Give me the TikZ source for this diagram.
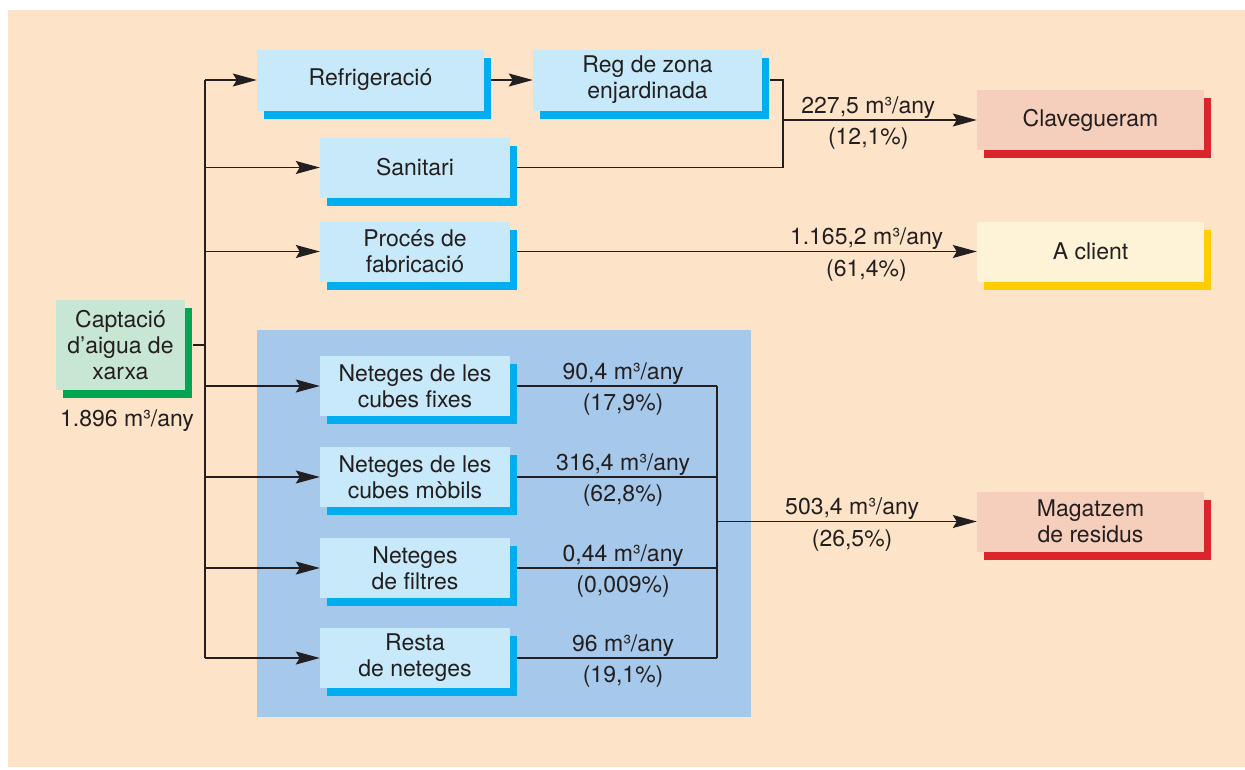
\documentclass[tikz,border=0pt]{standalone}
\usepackage{fontspec}
\setmainfont{TeX Gyre Heros}
\usetikzlibrary{arrows.meta,shadows}
\definecolor{paper}{RGB}{253,227,200}
\definecolor{panel}{RGB}{166,200,234}
\definecolor{boxblue}{RGB}{199,233,249}
\definecolor{shadeblue}{RGB}{0,174,239}
\definecolor{boxgreen}{RGB}{200,230,212}
\definecolor{shadegreen}{RGB}{0,166,81}
\definecolor{boxred}{RGB}{246,206,188}
\definecolor{shadered}{RGB}{218,37,42}
\definecolor{boxyellow}{RGB}{254,243,214}
\definecolor{shadeyellow}{RGB}{255,204,0}
\definecolor{ink}{RGB}{35,31,32}

\begin{document}
\begin{tikzpicture}[x=1pt, y=-1pt, text=ink, font=\fontsize{23}{26}\selectfont,
		box/.style 2 args={fill=#1, align=center, inner sep=0pt, minimum height=60pt,
			drop shadow={shadow xshift=7pt, shadow yshift=-8pt, opacity=1, fill=#2}},
		stage/.style={box={boxblue}{shadeblue}, minimum width=190pt},
		sink/.style 2 args={box={#1}{#2}, minimum width=227pt},
		wire/.style={draw=ink, line width=1.2pt},
		flow/.style={wire, -{Stealth[length=24pt, width=13pt, inset=4pt]}},
		qty/.style={text height=15pt, text depth=5pt, inner sep=1pt}]
			\useasboundingbox (0,0) rectangle (1245,769);
			\fill[paper] (8,10) rectangle (1245,767);
			\fill[panel] (257,330) rectangle (751,717);
			
			\node[box={boxgreen}{shadegreen}, minimum width=129pt, minimum height=90pt] (captacio) at (120.5,345) {Captació\\d’aigua de\\xarxa};
			\node[qty] (cabal) at (127,421) {1.896 m³/any};
			
			\node[stage, minimum width=227pt, minimum height=61pt] (refrig) at (370.5,80) {Refrigeració};
			\node[stage, minimum width=229pt, minimum height=61pt] (reg) at (647.5,80) {Reg de zona\\enjardinada};
			\node[stage] (sanitari) at (415,167.5) {Sanitari};
			\node[stage] (proces) at (415,251.5) {Procés de\\fabricació};
			\node[stage] (net1) at (415,386) {Neteges de les\\cubes fixes};
			\node[stage] (net2) at (415,477) {Neteges de les\\cubes mòbils};
			\node[stage] (net3) at (415,568) {Neteges\\de filtres};
			\node[stage] (net4) at (415,658) {Resta\\de neteges};
			
			\node[sink={boxred}{shadered}] (clav) at (1090.5,120) {Clavegueram};
			\node[sink={boxyellow}{shadeyellow}] (client) at (1090.5,251.5) {A client};
			\node[sink={boxred}{shadered}] (magatzem) at (1090.5,521.5) {Magatzem\\de residus};
			
			\coordinate (split) at (205,346);
			\coordinate (merge) at (783,120);
			\coordinate (collect) at (717,521.5);
			
			\draw[wire] ([xshift=8pt]captacio.east) -- (split |- captacio.east);
			\draw[wire] (split |- refrig) -- (split |- net4);
			\foreach \n in {refrig,sanitari,proces,net1,net2,net3,net4}
				\draw[flow] (split |- \n) -- (\n);
			
			\draw[flow] ([xshift=7pt]refrig.east) -- (reg);
			\draw[wire] ([xshift=8pt]reg.east) -| (merge |- sanitari) -- ([xshift=7pt]sanitari.east);
			\draw[flow] (merge) -- (clav) node[qty, above, pos=.44] {227,5 m³/any} node[qty, below=8pt, pos=.44] {(12,1\%)};
			\draw[flow] ([xshift=7pt]proces.east) -- (client) node[qty, above, pos=.76] {1.165,2 m³/any} node[qty, below=8pt, pos=.76] {(61,4\%)};
			
			\draw[wire] ([xshift=7pt]net1.east) -- (collect |- net1) node[qty, above, pos=.53] {90,4 m³/any} node[qty, below=8pt, pos=.53] {(17,9\%)};
			\draw[wire] ([xshift=7pt]net2.east) -- (collect |- net2) node[qty, above, pos=.53] {316,4 m³/any} node[qty, below=8pt, pos=.53] {(62,8\%)};
			\draw[wire] ([xshift=7pt]net3.east) -- (collect |- net3) node[qty, above, pos=.53] {0,44 m³/any} node[qty, below=8pt, pos=.53] {(0,009\%)};
			\draw[wire] ([xshift=7pt]net4.east) -- (collect |- net4) node[qty, above, pos=.53] {96 m³/any} node[qty, below=8pt, pos=.53] {(19,1\%)};
			\draw[wire] (collect |- net1) -- (collect |- net4);
			\draw[flow] (collect) -- (magatzem) node[qty, above, pos=.52] {503,4 m³/any} node[qty, below=8pt, pos=.52] {(26,5\%)};
		\end{tikzpicture}
\end{document}
